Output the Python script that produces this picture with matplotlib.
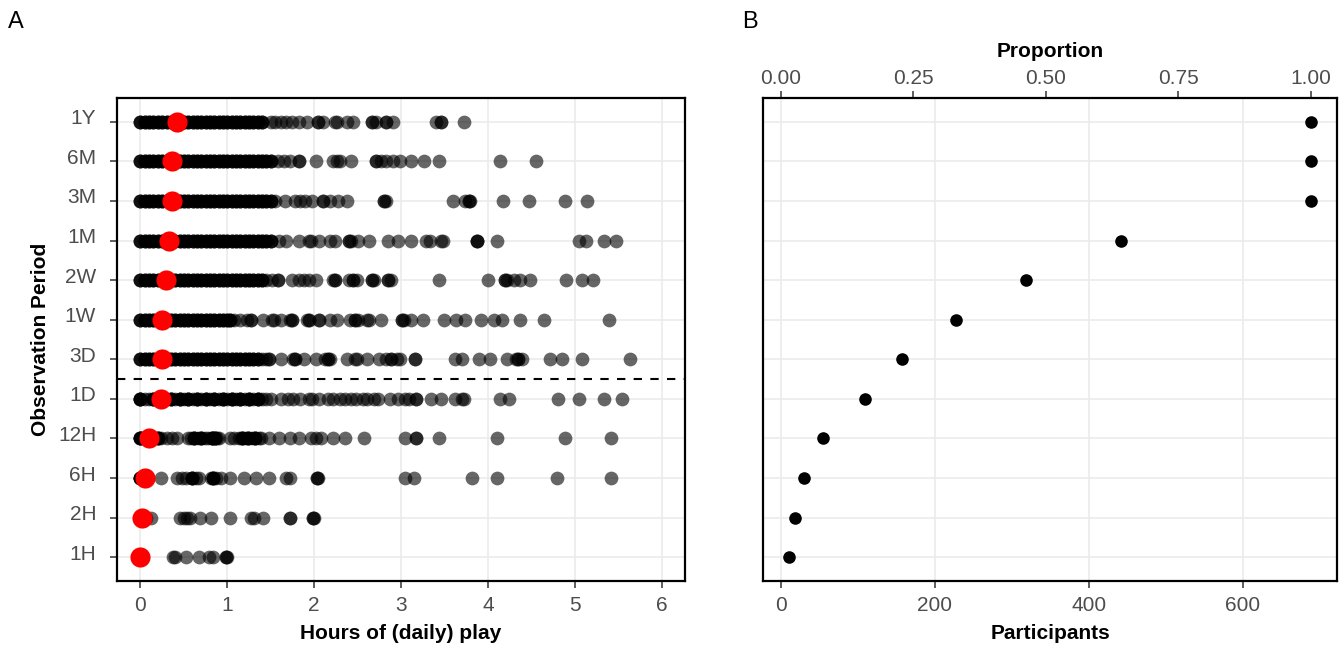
import matplotlib
matplotlib.use("Agg")
import matplotlib.pyplot as plt
import matplotlib.transforms as mtransforms
import numpy as np

plt.rcParams['font.family'] = ['Liberation Sans', 'DejaVu Sans']

periods = ["1H", "2H", "6H", "12H", "1D", "3D", "1W", "2W", "1M", "3M", "6M", "1Y"]

# hours of daily play per participant (dense bands listed point by point)
band_1Y = [0.00, 0.05, 0.10, 0.15, 0.20, 0.25, 0.30, 0.35, 0.40, 0.45, 0.50, 0.55, 0.60, 0.65, 0.70,
           0.75, 0.80, 0.85, 0.90, 0.95, 1.00, 1.05, 1.10, 1.15, 1.20, 1.25, 1.30, 1.35, 1.40]
tail_1Y = [1.50, 1.55, 1.62, 1.68, 1.74, 1.82, 1.92, 2.04, 2.04, 2.10, 2.24, 2.26, 2.38, 2.45,
           2.67, 2.67, 2.71, 2.83, 2.83, 2.91, 3.40, 3.46, 3.46, 3.72]
band_6M = [0.00, 0.05, 0.10, 0.15, 0.20, 0.25, 0.30, 0.35, 0.40, 0.45, 0.50, 0.55, 0.60, 0.65, 0.70,
           0.75, 0.80, 0.85, 0.90, 0.95, 1.00, 1.05, 1.10, 1.15, 1.20, 1.25, 1.30, 1.35, 1.40, 1.45, 1.50]
tail_6M = [1.58, 1.65, 1.72, 1.82, 1.82, 2.02, 2.22, 2.26, 2.30, 2.43, 2.71, 2.71, 2.77, 2.83,
           2.91, 2.99, 3.12, 3.27, 3.44, 4.14, 4.56]
band_3M = [0.00, 0.05, 0.10, 0.15, 0.20, 0.25, 0.30, 0.35, 0.40, 0.45, 0.50, 0.55, 0.60, 0.65, 0.70,
           0.75, 0.80, 0.85, 0.90, 0.95, 1.00, 1.05, 1.10, 1.15, 1.20, 1.25, 1.30, 1.35, 1.40, 1.45, 1.50]
tail_3M = [1.55, 1.66, 1.78, 1.84, 1.90, 1.98, 2.10, 2.10, 2.18, 2.28, 2.38, 2.81, 2.81, 2.83,
           3.60, 3.74, 3.78, 3.78, 3.80, 4.18, 4.47, 4.89, 5.14]
band_1M = [0.00, 0.05, 0.10, 0.15, 0.20, 0.25, 0.30, 0.35, 0.40, 0.45, 0.50, 0.55, 0.60, 0.65, 0.70,
           0.75, 0.80, 0.85, 0.90, 0.95, 1.00, 1.05, 1.10, 1.15, 1.20, 1.25, 1.30, 1.35, 1.40, 1.45, 1.50]
tail_1M = [1.60, 1.68, 1.82, 1.94, 1.96, 2.06, 2.18, 2.24, 2.40, 2.40, 2.42, 2.51, 2.63, 2.85,
           2.97, 3.11, 3.29, 3.33, 3.46, 3.48, 3.87, 3.87, 3.87, 4.10, 5.05, 5.13, 5.34, 5.48]
band_2W = [0.00, 0.05, 0.10, 0.15, 0.20, 0.25, 0.30, 0.35, 0.40, 0.45, 0.50, 0.55, 0.60, 0.65, 0.70,
           0.75, 0.80, 0.85, 0.90, 0.95, 1.00, 1.05, 1.10, 1.15, 1.20, 1.25, 1.30, 1.35, 1.40]
tail_2W = [1.45, 1.52, 1.58, 1.58, 1.74, 1.82, 1.88, 1.94, 2.02, 2.22, 2.24, 2.24, 2.40, 2.45,
           2.45, 2.49, 2.67, 2.67, 2.69, 2.85, 2.85, 2.89, 3.44, 4.00, 4.20, 4.20, 4.22, 4.30,
           4.37, 4.49, 4.90, 5.08, 5.21]
band_1W = [0.00, 0.05, 0.10, 0.15, 0.20, 0.25, 0.30, 0.35, 0.40, 0.45, 0.50, 0.55, 0.60, 0.65, 0.70,
           0.75, 0.80, 0.85, 0.90, 0.95, 1.00, 1.03]
tail_1W = [1.08, 1.15, 1.23, 1.27, 1.27, 1.41, 1.52, 1.54, 1.62, 1.72, 1.74, 1.74, 1.92, 1.94,
           1.94, 2.06, 2.06, 2.18, 2.26, 2.41, 2.47, 2.47, 2.51, 2.61, 2.63, 2.77, 3.01, 3.01,
           3.03, 3.11, 3.25, 3.50, 3.63, 3.74, 3.92, 4.07, 4.16, 4.37, 4.65, 5.40]
band_3D = [0.00, 0.05, 0.10, 0.15, 0.20, 0.25, 0.30, 0.35, 0.40, 0.45, 0.50, 0.55, 0.60, 0.65, 0.70,
           0.75, 0.80, 0.85, 0.90, 0.95, 1.00, 1.05, 1.10, 1.15, 1.20, 1.25, 1.30, 1.35]
tail_3D = [1.40, 1.44, 1.48, 1.48, 1.62, 1.76, 1.78, 1.78, 1.88, 2.02, 2.12, 2.16, 2.16, 2.18,
           2.38, 2.47, 2.49, 2.61, 2.75, 2.83, 2.89, 2.89, 2.95, 2.99, 3.16, 3.16, 3.62, 3.70,
           3.90, 4.02, 4.22, 4.32, 4.35, 4.35, 4.39, 4.71, 4.85, 5.08, 5.64]
band_1D = [0.00, 0.15, 0.25, 0.35, 0.45, 0.55, 0.65, 0.75, 0.85, 0.95, 1.05, 1.15, 1.25, 1.35]
tail_1D = [0.00, 0.00, 0.05, 0.10, 0.15, 0.20, 0.25, 0.30, 0.35, 0.40, 0.45, 0.50, 0.55,
           0.60, 0.65, 0.70, 0.75, 0.80, 0.85, 0.90, 0.95, 1.00, 1.05, 1.10, 1.15, 1.20, 1.25,
           1.30, 1.35, 1.40, 1.45, 1.50, 1.62, 1.70, 1.76, 1.84, 1.94, 1.98, 2.06, 2.16, 2.22,
           2.30, 2.36, 2.42, 2.48, 2.56, 2.61, 2.69, 2.73, 2.87, 2.97, 3.05, 3.09, 3.17, 3.17,
           3.35, 3.46, 3.62, 3.70, 3.72, 4.14, 4.24, 4.81, 5.05, 5.34, 5.55]
band_12H = [0.00, 0.20, 0.62, 0.70, 0.82, 0.86, 1.17, 1.24, 1.32]
tail_12H = [0.00, 0.00, 0.02, 0.12, 0.16, 0.20, 0.24, 0.30, 0.36, 0.42, 0.55, 0.58, 0.62, 0.66,
            0.70, 0.74, 0.78, 0.82, 0.84, 0.86, 0.88, 0.91, 1.03, 1.08, 1.13, 1.17, 1.20, 1.24,
            1.28, 1.32, 1.36, 1.39, 1.48, 1.60, 1.72, 1.82, 1.96, 2.02, 2.08, 2.22, 2.36, 2.57,
            3.05, 3.17, 3.17, 3.44, 4.11, 4.89, 5.42]
band_6H = [0.00, 0.59, 0.83]
tail_6H = [0.00, 0.00, 0.24, 0.42, 0.48, 0.53, 0.59, 0.64, 0.67, 0.81, 0.83, 0.87, 0.93, 1.03,
           1.19, 1.33, 1.48, 1.68, 1.72, 2.03, 2.03, 2.05, 3.05, 3.15, 3.82, 4.11, 4.80, 5.42]
band_2H = []
tail_2H = [0.00, 0.06, 0.12, 0.46, 0.50, 0.54, 0.57, 0.69, 0.81, 1.03, 1.27, 1.31, 1.41, 1.72,
           1.72, 1.99, 1.99, 2.00]
band_1H = []
tail_1H = [0.00, 0.00, 0.00, 0.38, 0.40, 0.53, 0.67, 0.79, 0.83, 0.99, 0.99, 1.00]

bands = [band_1H, band_2H, band_6H, band_12H, band_1D, band_3D, band_1W, band_2W,
         band_1M, band_3M, band_6M, band_1Y]
tails = [tail_1H, tail_2H, tail_6H, tail_12H, tail_1D, tail_3D, tail_1W, tail_2W,
         tail_1M, tail_3M, tail_6M, tail_1Y]

mean_hours = [0.00, 0.02, 0.05, 0.10, 0.24, 0.245, 0.25, 0.29, 0.33, 0.36, 0.36, 0.42]

participants = [11, 18, 30, 55, 109, 157, 227, 319, 442, 688, 688, 688]
n_total = 688

grid_c = "#ebebeb"
tick_c = "#4d4d4d"
fs = 15

fig = plt.figure(figsize=(13.44, 6.46), dpi=100)
axA = fig.add_axes([117/1344, 1-581/646, 568/1344, 483/646])
axB = fig.add_axes([763/1344, 1-581/646, 574/1344, 483/646])

ypos = np.arange(1, len(periods)+1)

for ax in (axA, axB):
    ax.set_facecolor("white")
    ax.grid(True, color=grid_c, linewidth=1.2)
    ax.set_axisbelow(True)
    for s in ax.spines.values():
        s.set_linewidth(1.6)
        s.set_color("black")
    ax.set_ylim(0.4, 12.6)
    ax.set_yticks(ypos)

# panel A
for i in range(len(periods)):
    b = np.repeat(bands[i], 3)
    axA.scatter(b, np.full(len(b), ypos[i]), s=98, color="black", alpha=0.6, linewidths=0, zorder=2)
    t = np.array(tails[i])
    axA.scatter(t, np.full(len(t), ypos[i]), s=98, color="black", alpha=0.6, linewidths=0, zorder=2)
axA.scatter(mean_hours, ypos, s=210, color="#ff0000", linewidths=0, zorder=3)
axA.axhline(5.5, color="black", linestyle=(0, (4, 4)), linewidth=1.5, zorder=4)

axA.set_xlim(-0.27, 6.27)
axA.set_xticks([0, 1, 2, 3, 4, 5, 6])
axA.set_yticklabels(periods)
axA.tick_params(axis="x", labelsize=fs, labelcolor=tick_c, color="#333333", length=5, width=1.1, pad=6)
axA.tick_params(axis="y", labelsize=fs, labelcolor=tick_c, color="#333333", length=5, width=1.1, pad=10)
shift = mtransforms.ScaledTranslation(0, 5/100, fig.dpi_scale_trans)
for lab in axA.get_yticklabels():
    lab.set_transform(lab.get_transform() + shift)
axA.set_xlabel("Hours of (daily) play", fontsize=fs, fontweight="bold", labelpad=6)
axA.set_ylabel("Observation Period", fontsize=fs, fontweight="bold", labelpad=6)

# panel B
axB.scatter(participants, ypos, s=82, color="black", linewidths=0, zorder=3)
axB.set_xlim(-22.9, 721.9)
axB.set_xticks([0, 200, 400, 600])
axB.tick_params(axis="x", labelsize=fs, labelcolor=tick_c, color="#333333", length=5, width=1.1, pad=6)
axB.tick_params(axis="y", left=False, labelleft=False)
axB.set_xlabel("Participants", fontsize=fs, fontweight="bold", labelpad=6)

sec = axB.secondary_xaxis("top", functions=(lambda x: x/n_total, lambda p: p*n_total))
sec.set_xticks([0.0, 0.25, 0.5, 0.75, 1.0])
sec.set_xticklabels(["0.00", "0.25", "0.50", "0.75", "1.00"])
sec.tick_params(labelsize=fs, labelcolor=tick_c, color="#333333", length=5, width=1.1, pad=2)
sec.spines["top"].set_visible(False)
sec.set_xlabel("Proportion", fontsize=fs, fontweight="bold", labelpad=9)

fig.text(8/1344, 1-22/646, "A", fontsize=17, va="center", ha="left")
fig.text(742/1344, 1-22/646, "B", fontsize=17, va="center", ha="left")

fig.savefig("out.png", dpi=100)
